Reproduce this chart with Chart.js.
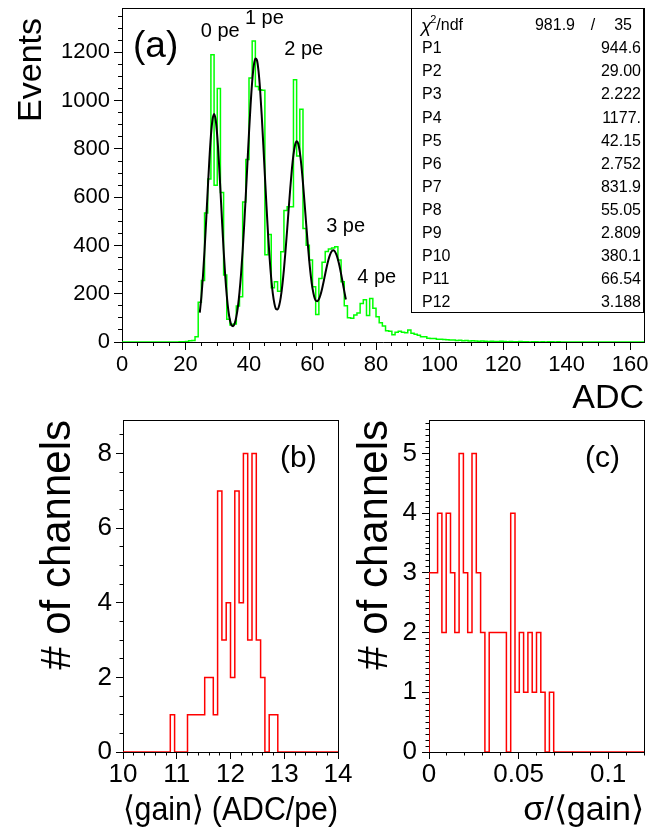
<!DOCTYPE html>
<html lang="en">
<head>
<meta charset="UTF-8" />
<title>SiPM gain calibration</title>
<script src="https://cdn.jsdelivr.net/npm/chart.js"></script>
<style>
  body { margin: 0; background: #fff; }
  #page { position: relative; width: 654px; height: 831px; overflow: hidden; background: #fff; }
  canvas { position: absolute; }
  #chartA { left: 0; top: 0; }
  #chartB { left: 0; top: 400px; }
  #chartC { left: 345px; top: 400px; }
</style>
</head>
<body>
<div id="page">
  <canvas id="chartA" width="654" height="420"></canvas>
  <canvas id="chartB" width="360" height="431"></canvas>
  <canvas id="chartC" width="309" height="431"></canvas>
</div>
<script>
// (a) ADC spectrum of one channel, 1 ADC per bin from 0 (bins above 140 are empty)
const adcBins = 165;
const adcCounts = [
  0, 0, 0, 0, 0, 0, 0, 0, 0, 0, 0, 0, 0, 0, 0, 0, 0, 0, 1, 1,
  2, 5, 6, 22, 165, 255, 535, 675, 1190, 650, 1050, 620, 278, 94, 70, 75, 149, 188, 580, 756,
  1094, 1247, 1059, 1045, 1043, 362, 445, 225, 250, 210, 374, 545, 560, 560, 1087, 771, 964, 470, 401, 340,
  229, 114, 263, 330, 375, 385, 390, 395, 340, 250, 150, 100, 98, 112, 120, 160, 175, 110, 180, 140,
  105, 80, 66, 47, 45, 30, 40, 45, 40, 38, 50, 36, 32, 28, 22, 22, 16, 15, 14, 11,
  11, 10, 9, 8, 8, 6, 7, 5, 6, 4, 5, 4, 3, 4, 3, 2, 3, 2, 2, 3,
  2, 1, 2, 1, 1, 2, 1, 1, 0, 1, 1, 0, 1, 0, 1, 1, 0, 1, 0, 0, 0
];
const adcTicks = [0, 20, 40, 60, 80, 100, 120, 140, 160];
const eventTicks = [0, 200, 400, 600, 800, 1000, 1200];

// fitted 4-gaussian curve, read every 0.5 ADC from 24.5 to 70.5
const fitStart = 24.5;
const fitStep = 0.5;
const fitValues = [
  122, 187, 273, 380, 502, 630, 752, 854, 921, 945, 921, 854, 752, 630, 502, 381, 276, 192, 130, 90,
  69, 65, 77, 104, 146, 206, 283, 378, 489, 611, 740, 867, 983, 1079, 1145, 1175, 1168, 1122, 1044, 939,
  818, 690, 564, 447, 346, 263, 200, 159, 137, 135, 151, 185, 236, 301, 378, 463, 552, 638, 715, 776,
  816, 832, 822, 787, 731, 658, 576, 490, 407, 333, 270, 222, 190, 172, 169, 177, 195, 220, 250, 282,
  313, 340, 361, 375, 380, 376, 363, 342, 315, 282, 247, 211, 176
];
const statNames = ['P1', 'P2', 'P3', 'P4', 'P5', 'P6', 'P7', 'P8', 'P9', 'P10', 'P11', 'P12'];
const statValues = ['944.6', '29.00', '2.222', '1177.', '42.15', '2.752', '831.9', '55.05', '2.809', '380.1', '66.54', '3.188'];
const chi2 = '981.9';
const ndf = '35';
const peLabels = ['0 pe', '1 pe', '2 pe', '3 pe', '4 pe'];

// (b) mean gain per channel, 0.08 ADC/pe bins from 10 to 14
const gainMin = 10;
const gainBin = 0.08;
const gainCounts = [
  0, 0, 0, 0, 0, 0, 0, 0, 0, 0, 0, 1, 0, 0, 0, 1, 1, 1, 1, 2,
  2, 1, 7, 3, 4, 2, 7, 4, 8, 3, 8, 3, 2, 0, 1, 1, 0, 0, 0, 0,
  0, 0, 0, 0, 0, 0, 0, 0, 0, 0
];
const gainTicks = [10, 11, 12, 13, 14];
const gainChanTicks = [0, 2, 4, 6, 8];

// (c) relative gain spread, 0.0024 bins from 0 to 0.12
const sigmaMin = 0;
const sigmaBin = 0.0024;
const sigmaCounts = [
  3, 3, 4, 2, 4, 3, 2, 5, 3, 2, 5, 3, 2, 0, 2, 2, 2, 2, 0, 4,
  1, 2, 1, 2, 1, 2, 1, 0, 1, 0, 0, 0, 0, 0, 0, 0, 0, 0, 0, 0,
  0, 0, 0, 0, 0, 0, 0, 0, 0, 0
];
const sigmaTicks = [0, 0.05, 0.1];
const sigmaChanTicks = [0, 1, 2, 3, 4, 5];

const FONT = "'Liberation Sans', Arial, Helvetica, sans-serif";
Chart.defaults.font.family = FONT;
Chart.defaults.color = '#000';

function histPoints(x0, w, counts, n) {
  const pts = [{ x: x0, y: 0 }];
  for (let i = 0; i < n; i++) pts.push({ x: x0 + i * w, y: counts[i] || 0 });
  pts.push({ x: x0 + n * w, y: counts[n - 1] || 0 });
  return pts;
}

function axis(o) {
  return {
    type: 'linear', min: o.min, max: o.max,
    afterBuildTicks: s => { s.ticks = o.ticks.map(v => ({ value: v })); },
    afterFit: s => {
      if (s.isHorizontal()) s.height = o.size; else s.width = o.size;
      s.paddingLeft = s.paddingRight = s.paddingTop = s.paddingBottom = 0;
    },
    ticks: {
      autoSkip: false, maxRotation: 0, minRotation: 0, padding: o.labelPad, color: '#000',
      font: { family: FONT, size: o.fontSize }, callback: v => String(v)
    },
    grid: { drawOnChartArea: false, drawTicks: true, tickLength: o.tickLen, color: '#000', lineWidth: 1 },
    border: { display: true, color: '#000', width: 1 },
    title: {
      display: !!o.title, text: o.title || '', align: 'end', color: '#000',
      font: { family: FONT, size: o.titleSize }, padding: { top: o.titlePad, bottom: o.titlePad }
    }
  };
}

// small outward ticks between the labelled ones, plus the top/right frame lines
const rootFrame = {
  id: 'rootFrame',
  afterDraw(chart, args, opts) {
    const ctx = chart.ctx, a = chart.chartArea;
    const al = p => Math.round(p - 0.5) + 0.5;
    ctx.save();
    ctx.strokeStyle = '#000';
    ctx.lineWidth = 1;
    ctx.beginPath();
    for (const [id, step, len] of opts.minor) {
      const s = chart.scales[id];
      for (let k = Math.ceil(s.min / step - 1e-6); k * step <= s.max + 1e-9; k++) {
        const p = al(s.getPixelForValue(k * step));
        if (s.isHorizontal()) { ctx.moveTo(p, a.bottom); ctx.lineTo(p, a.bottom + len); }
        else { ctx.moveTo(a.left - len, p); ctx.lineTo(a.left, p); }
      }
    }
    ctx.moveTo(a.left, al(a.top));
    ctx.lineTo(a.right, al(a.top));
    ctx.moveTo(al(a.right), a.top);
    ctx.lineTo(al(a.right), a.bottom);
    ctx.stroke();
    ctx.restore();
  }
};

const panelText = {
  id: 'panelText',
  afterDatasetsDraw(chart, args, opts) {
    const ctx = chart.ctx, a = chart.chartArea;
    ctx.save();
    ctx.fillStyle = '#000';
    ctx.textBaseline = 'alphabetic';
    ctx.font = opts.tagSize + 'px ' + FONT;
    ctx.fillText(opts.tag, a.left + opts.tagX, a.top + opts.tagY);
    if (opts.yTitle) {
      // rotated y title, end of the text a bit below the frame top
      const t = opts.yTitle;
      ctx.save();
      ctx.translate(t.x, a.top + t.endY);
      ctx.rotate(-Math.PI / 2);
      ctx.font = t.size + 'px ' + FONT;
      ctx.textAlign = 'right';
      ctx.textBaseline = 'middle';
      ctx.fillText(t.text, 0, 0);
      ctx.restore();
    }
    if (opts.draw) opts.draw(chart, ctx, a);
    ctx.restore();
  }
};

function drawSpectrumNotes(chart, ctx, a) {
  const x = chart.scales.x, y = chart.scales.y;
  const at = [[24.8, 1262], [38.7, 1316], [51.1, 1188], [64.3, 455], [74.1, 246]];
  ctx.font = '20px ' + FONT;
  peLabels.forEach((t, i) => ctx.fillText(t, x.getPixelForValue(at[i][0]), y.getPixelForValue(at[i][1])));

  // fit statistics box
  const bx = a.left + 289, by = a.top, bw = a.right - bx, bh = 304;
  ctx.fillStyle = '#fff';
  ctx.fillRect(bx, by, bw, bh);
  ctx.strokeStyle = '#000';
  ctx.lineWidth = 1;
  ctx.strokeRect(Math.round(bx) + 0.5, Math.round(by) + 0.5, Math.round(bw) - 1, bh);
  ctx.fillStyle = '#000';
  ctx.textBaseline = 'middle';

  // header row: chi2 / ndf
  const hy = by + 17.7;
  ctx.textAlign = 'left';
  ctx.font = 'italic 19px ' + FONT;
  ctx.fillText('χ', bx + 10, hy + 1);
  const cw = ctx.measureText('χ').width;
  ctx.font = '11px ' + FONT;
  ctx.fillText('2', bx + 10 + cw - 1, hy - 6);
  ctx.font = '16px ' + FONT;
  ctx.fillText('/ndf', bx + 10 + cw + 5, hy);
  ctx.textAlign = 'right';
  ctx.fillText(chi2, a.right - 69, hy);
  ctx.fillText(ndf, a.right - 12, hy);
  ctx.textAlign = 'center';
  ctx.fillText('/', a.right - 51, hy);

  statNames.forEach((t, i) => {
    const ry = hy + 23.1 * (i + 1);
    ctx.textAlign = 'left';
    ctx.fillText(t, bx + 11, ry);
    ctx.textAlign = 'right';
    ctx.fillText(statValues[i], a.right - 3, ry);
  });
}

const fitPoints = fitValues.map((v, i) => ({ x: fitStart + i * fitStep, y: v }));

new Chart(document.getElementById('chartA'), {
  type: 'line',
  data: {
    datasets: [
      { data: fitPoints, borderColor: '#000', borderWidth: 2, pointRadius: 0, fill: false, cubicInterpolationMode: 'monotone' },
      { data: histPoints(0, 1, adcCounts, adcBins), stepped: 'before', borderColor: '#00ff00', borderWidth: 1.5, pointRadius: 0, fill: false }
    ]
  },
  options: {
    responsive: false, animation: false, devicePixelRatio: 1,
    layout: { padding: { left: 0, top: 8, right: 10, bottom: 0 } },
    plugins: {
      legend: { display: false }, tooltip: { enabled: false },
      rootFrame: { minor: [['x', 5, 4], ['y', 50, 4]] },
      panelText: {
        tag: '(a)', tagSize: 37, tagX: 11, tagY: 49, draw: drawSpectrumNotes,
        yTitle: { text: 'Events', size: 34, x: 32, endY: 10 }
      }
    },
    scales: {
      x: axis({ min: 0, max: 164.4, ticks: adcTicks, size: 78, tickLen: 8, labelPad: 2, fontSize: 22, title: 'ADC', titleSize: 34, titlePad: 1 }),
      y: axis({ min: 0, max: 1384, ticks: eventTicks, size: 122, tickLen: 8, labelPad: 4, fontSize: 22 })
    }
  },
  plugins: [panelText, rootFrame]
});

new Chart(document.getElementById('chartB'), {
  type: 'line',
  data: {
    datasets: [
      { data: histPoints(gainMin, gainBin, gainCounts, gainCounts.length), stepped: 'before', borderColor: '#ff0000', borderWidth: 1.5, pointRadius: 0, fill: false }
    ]
  },
  options: {
    responsive: false, animation: false, devicePixelRatio: 1,
    layout: { padding: { left: 0, top: 20, right: 22, bottom: 0 } },
    plugins: {
      legend: { display: false }, tooltip: { enabled: false },
      rootFrame: { minor: [['x', 0.2, 3.5], ['y', 0.5, 3.5]] },
      panelText: { tag: '(b)', tagSize: 30, tagX: 157, tagY: 47 }
    },
    scales: {
      x: axis({ min: 10, max: 14, ticks: gainTicks, size: 79, tickLen: 7, labelPad: 0, fontSize: 26, title: '⟨gain⟩ (ADC/pe)', titleSize: 34, titlePad: 0 }),
      y: axis({ min: 0, max: 8.9, ticks: gainChanTicks, size: 123, tickLen: 7, labelPad: 4, fontSize: 26, title: '# of channels', titleSize: 42, titlePad: 33 })
    }
  },
  plugins: [panelText, rootFrame]
});

new Chart(document.getElementById('chartC'), {
  type: 'line',
  data: {
    datasets: [
      { data: histPoints(sigmaMin, sigmaBin, sigmaCounts, sigmaCounts.length), stepped: 'before', borderColor: '#ff0000', borderWidth: 1.5, pointRadius: 0, fill: false }
    ]
  },
  options: {
    responsive: false, animation: false, devicePixelRatio: 1,
    layout: { padding: { left: 0, top: 20, right: 10, bottom: 0 } },
    plugins: {
      legend: { display: false }, tooltip: { enabled: false },
      rootFrame: { minor: [['x', 0.01, 3.5], ['y', 0.1, 3.5]] },
      panelText: { tag: '(c)', tagSize: 30, tagX: 156, tagY: 47 }
    },
    scales: {
      x: axis({ min: 0, max: 0.12, ticks: sigmaTicks, size: 79, tickLen: 7, labelPad: 0, fontSize: 26, title: 'σ/⟨gain⟩', titleSize: 34, titlePad: 0 }),
      y: axis({ min: 0, max: 5.56, ticks: sigmaChanTicks, size: 84, tickLen: 7, labelPad: 5, fontSize: 26, title: '# of channels', titleSize: 42, titlePad: 5 })
    }
  },
  plugins: [panelText, rootFrame]
});
</script>
</body>
</html>
